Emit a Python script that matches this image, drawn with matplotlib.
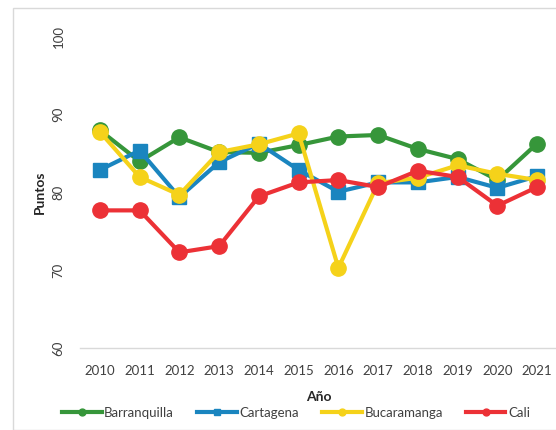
import matplotlib
matplotlib.use("Agg")
import matplotlib.pyplot as plt
from matplotlib.patches import Rectangle

plt.rcParams['font.family'] = ['Lato', 'DejaVu Sans']

years = [2010, 2011, 2012, 2013, 2014, 2015, 2016, 2017, 2018, 2019, 2020, 2021]
barranquilla = [88.0, 84.0, 87.1, 85.2, 85.1, 86.1, 87.2, 87.4, 85.6, 84.3, 81.6, 86.3]
cartagena = [82.9, 85.4, 79.4, 83.9, 86.3, 82.9, 80.1, 81.3, 81.3, 82.0, 80.6, 82.1]
bucaramanga = [87.8, 82.0, 79.7, 85.2, 86.2, 87.6, 70.3, 81.2, 81.9, 83.5, 82.4, 81.6]
cali = [77.7, 77.7, 72.3, 73.1, 79.5, 81.3, 81.6, 80.7, 82.8, 82.0, 78.3, 80.7]

series = [
    ("Barranquilla", barranquilla, "#36963a", "o"),
    ("Cartagena", cartagena, "#1a85bf", "s"),
    ("Bucaramanga", bucaramanga, "#f5d21a", "o"),
    ("Cali", cali, "#ec3136", "o"),
]

W, H = 556, 430
fig = plt.figure(figsize=(W / 100, H / 100), dpi=100)
fig.patches.append(Rectangle((13 / W, 0), 1.2, 1 - 8 / H, transform=fig.transFigure,
                             fill=False, edgecolor="#d9d9d9", linewidth=1.0))

ax = fig.add_axes([80 / W, 1 - 348 / H, (557 - 80) / W, (348 - 37) / H])
x = list(range(len(years)))
for name, vals, col, mk in series:
    ax.plot(x, vals, color=col, linewidth=3.0, marker=mk,
            markersize=11 if mk == "o" else 10.5, label=name, clip_on=False)

ax.set_xlim(-0.5, len(years) - 0.5)
ax.set_ylim(60, 100)
ax.set_yticks([60, 70, 80, 90, 100])
ax.set_xticks(x)
ax.set_xticklabels([str(y) for y in years], fontsize=9.5, color="#404040")
for lbl in ax.get_yticklabels():
    lbl.set_rotation(90)
    lbl.set_va("center")
    lbl.set_fontsize(9.5)
    lbl.set_color("#404040")
ax.tick_params(axis="both", length=0)
ax.tick_params(axis="x", pad=12)
ax.tick_params(axis="y", pad=11)
for s in ["top", "right", "left"]:
    ax.spines[s].set_visible(False)
ax.spines["bottom"].set_color("#d9d9d9")
ax.spines["bottom"].set_linewidth(1.0)

ax.set_xlabel("Año", fontsize=10, fontweight="bold", color="#262626", labelpad=10)
ax.set_ylabel("Puntos", fontsize=10, fontweight="bold", color="#262626", labelpad=5)

handles, labels = ax.get_legend_handles_labels()
leg = fig.legend(handles, labels, loc="center", bbox_to_anchor=(296 / W, 1 - 413 / H),
                 ncol=4, frameon=False, fontsize=9.5, handlelength=3.0,
                 columnspacing=1.75, handletextpad=0.2, markerscale=0.45)
for t in leg.get_texts():
    t.set_color("#404040")
for h in leg.legend_handles:
    h.set_linewidth(3.0)

fig.savefig("out.png", dpi=100)
